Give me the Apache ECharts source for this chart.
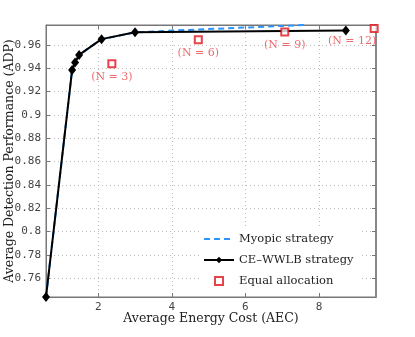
<!DOCTYPE html>
<html style="height: 100%">
<head>
    <meta charset="UTF-8">
    <title>ADP vs AEC</title>
    <script src="https://cdn.jsdelivr.net/npm/echarts/dist/echarts.min.js"></script>
    <style>
        #main { width: 415px; height: 337px; }
    </style>
</head>
<body style="height: 100%; margin: 0; background: #fff">
    <div id="main"></div>
    <script type="text/javascript">
        // values
        var wwlbCost = [0.58, 1.29, 1.37, 1.48, 2.09, 3.0, 8.73];
        var wwlbAdp = [0.744, 0.9385, 0.9448, 0.9514, 0.9649, 0.9707, 0.9723];

        var myopicCost = [0.58, 1.29, 1.37, 1.48, 2.09, 3.0, 4.0, 5.0, 6.0, 7.0, 7.7];
        var myopicAdp = [0.744, 0.9385, 0.9448, 0.9514, 0.9649, 0.9707, 0.9722, 0.9735, 0.9748, 0.9762, 0.9772];

        var equalCost = [2.37, 4.72, 7.07, 9.50];
        var equalAdp = [0.9437, 0.9643, 0.9709, 0.9740];
        var equalN = [3, 6, 9, 12];

        var serif = '"DejaVu Serif", "Liberation Serif", serif';
        var mono = '"DejaVu Sans Mono", monospace';

        function pairs(xs, ys) {
            return xs.map(function (x, i) { return [x, ys[i]]; });
        }

        var equalData = equalCost.map(function (x, i) {
            var item = { value: [x, equalAdp[i]], n: equalN[i] };
            if (i === equalCost.length - 1) {
                item.label = { offset: [-22, 0] };
            }
            return item;
        });

        var chartDom = document.getElementById('main');
        var myChart = echarts.init(chartDom, null, { renderer: 'canvas' });
        var option;

        var gridLine = { show: true, lineStyle: { color: '#bbb', type: [1, 3], width: 1 } };
        var hidden = 'rgba(0,0,0,0)';

        option = {
            animation: false,
            grid: {
                left: 46, right: 39, top: 25, bottom: 40,
                containLabel: false,
                outerBoundsMode: 'none',
                show: true, borderColor: '#777', borderWidth: 1, backgroundColor: '#fff'
            },
            legend: {
                orient: 'vertical',
                left: 201,
                top: 229,
                itemWidth: 30,
                itemHeight: 8,
                itemGap: 9,
                backgroundColor: '#fff',
                padding: [4, 6, 4, 2],
                textStyle: { fontFamily: serif, fontSize: 11.5, color: '#222' },
                data: [
                    { name: 'Myopic strategy', itemStyle: { color: hidden, borderColor: hidden, borderWidth: 0 } },
                    { name: 'CE\u2013WWLB strategy' },
                    { name: 'Equal allocation', icon: 'path://M0,0H10V10H0Z' }
                ]
            },
            xAxis: [{
                type: 'value',
                min: 0.58, max: 9.55,
                splitNumber: 4,
                name: 'Average Energy Cost (AEC)',
                nameLocation: 'middle',
                nameGap: 15,
                nameMoveOverlap: false,
                nameTextStyle: { fontFamily: serif, fontSize: 12.5, color: '#222' },
                axisLine: { lineStyle: { color: '#777' } },
                axisTick: { inside: true, length: 4, lineStyle: { color: '#777' } },
                axisLabel: { showMinLabel: false, showMaxLabel: false, fontFamily: mono, fontSize: 11, color: '#444', margin: 5 },
                splitLine: gridLine
            }, {
                type: 'value', position: 'top',
                min: 0.58, max: 9.55, splitNumber: 4,
                axisLine: { lineStyle: { color: '#777' } },
                axisTick: { inside: true, length: 4, lineStyle: { color: '#777' } },
                axisLabel: { show: false },
                splitLine: { show: false }
            }],
            yAxis: [{
                type: 'value',
                min: 0.744, max: 0.977,
                splitNumber: 12,
                name: 'Average Detection Performance (ADP)',
                nameLocation: 'middle',
                nameGap: 30,
                nameMoveOverlap: false,
                nameTextStyle: { fontFamily: serif, fontSize: 12.5, color: '#222' },
                axisLine: { lineStyle: { color: '#777' } },
                axisTick: { inside: true, length: 4, lineStyle: { color: '#777' } },
                axisLabel: {
                    showMinLabel: false, showMaxLabel: false, fontFamily: mono, fontSize: 11, color: '#444', margin: 5,
                    formatter: function (v) { return String(+v.toFixed(2)); }
                },
                splitLine: gridLine
            }, {
                type: 'value', position: 'right',
                min: 0.744, max: 0.977, splitNumber: 12,
                axisLine: { lineStyle: { color: '#888', width: 2 } },
                axisTick: { inside: true, length: 4, lineStyle: { color: '#777' } },
                axisLabel: { show: false },
                splitLine: { show: false }
            }],
            series: [{
                name: 'Myopic strategy',
                type: 'line',
                data: pairs(myopicCost, myopicAdp),
                showSymbol: false,
                symbol: 'none',
                lineStyle: { color: '#2b95ff', width: 2, type: [6, 4] },
                itemStyle: { color: '#2b95ff' },
                z: 2
            }, {
                name: 'CE\u2013WWLB strategy',
                type: 'line',
                data: pairs(wwlbCost, wwlbAdp),
                symbol: 'diamond',
                symbolSize: [8, 10],
                lineStyle: { color: '#000', width: 2 },
                itemStyle: { color: '#000' },
                z: 3
            }, {
                name: 'Equal allocation',
                type: 'scatter',
                data: equalData,
                symbol: 'rect',
                symbolSize: 7,
                itemStyle: { color: '#fff', borderColor: '#e0141e', borderWidth: 2 },
                label: {
                    show: true,
                    position: 'bottom',
                    distance: 3,
                    fontFamily: serif,
                    fontSize: 11,
                    color: '#e8474d',
                    formatter: function (p) { return '(N = ' + p.data.n + ')'; }
                },
                z: 4
            }]
        };

        myChart.setOption(option);
    </script>
</body>
</html>
